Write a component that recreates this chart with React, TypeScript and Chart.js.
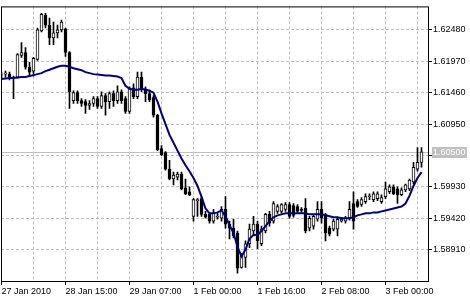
import { useEffect, useRef } from "react";
import { Chart, registerables } from "chart.js";
Chart.register(...registerables);

// H1 bars, index 0 = 27 Jan 2010 23:00
const opens = [1.61746,1.61762,1.61762,1.61714,1.61714,1.62065,1.62113,1.61874,1.61810,1.62001,
1.62464,1.62719,1.62559,1.62352,1.62432,1.62480,1.62496,1.62113,1.61332,1.61460,
1.61332,1.61316,1.61252,1.61284,1.61364,1.61236,1.61412,1.61316,1.61444,1.61332,
1.61475,1.61364,1.61157,1.61539,1.61396,1.61714,1.61523,1.61444,1.61380,1.61093,
1.60551,1.60487,1.60217,1.60057,1.60089,1.60137,1.59913,1.59850,1.59451,1.59707,
1.59739,1.59483,1.59483,1.59372,1.59436,1.59420,1.59563,1.59324,1.59260,1.59180,
1.58622,1.58782,1.59005,1.59212,1.59324,1.59005,1.59212,1.59483,1.59372,1.59531,
1.59531,1.59563,1.59643,1.59627,1.59611,1.59563,1.59579,1.59260,1.59292,1.59404,
1.59563,1.59483,1.59260,1.59244,1.59244,1.59372,1.59372,1.59420,1.59659,1.59691,
1.59643,1.59691,1.59770,1.59723,1.59739,1.59691,1.59770,1.59850,1.59930,1.59898,
1.59802,1.59882,1.59898,1.60009,1.60217,1.60328];

const highs = [1.61794,1.61810,1.61794,1.61730,1.62097,1.62273,1.62193,1.61954,1.62033,1.62511,
1.62751,1.62751,1.62671,1.62607,1.62559,1.62639,1.62511,1.62129,1.61491,1.61491,
1.61364,1.61348,1.61332,1.61396,1.61396,1.61475,1.61444,1.61475,1.61491,1.61571,
1.61507,1.61396,1.61555,1.61603,1.61794,1.61794,1.61555,1.61507,1.61412,1.61109,
1.60599,1.60503,1.60360,1.60169,1.60169,1.60169,1.60057,1.59930,1.59739,1.59739,
1.59770,1.59531,1.59499,1.59563,1.59499,1.59611,1.59770,1.59372,1.59404,1.59212,
1.58846,1.59053,1.59324,1.59451,1.59372,1.59292,1.59499,1.59531,1.59691,1.59643,
1.59659,1.59675,1.59675,1.59659,1.59643,1.59595,1.59739,1.59451,1.59483,1.59691,
1.59691,1.59499,1.59292,1.59404,1.59436,1.59436,1.59451,1.59691,1.59850,1.59723,
1.59754,1.59818,1.59818,1.59850,1.59850,1.59802,1.60009,1.59961,1.59961,1.59930,
1.59913,1.59977,1.60057,1.60328,1.60567,1.60567];

const lows = [1.61698,1.61714,1.61666,1.61364,1.61698,1.62033,1.61842,1.61730,1.61730,1.61985,
1.62448,1.62511,1.62241,1.62241,1.62352,1.62448,1.62049,1.61204,1.61284,1.61284,
1.61236,1.61125,1.61188,1.61236,1.61204,1.61204,1.61093,1.61204,1.61236,1.61284,
1.61284,1.61125,1.61125,1.61364,1.61364,1.61475,1.61316,1.61316,1.61061,1.60519,
1.60439,1.60201,1.60041,1.59961,1.60041,1.59882,1.59802,1.59786,1.59372,1.59451,
1.59451,1.59420,1.59340,1.59340,1.59404,1.59372,1.59260,1.59085,1.59101,1.58527,
1.58607,1.58622,1.58941,1.59133,1.58926,1.58973,1.59180,1.59292,1.59340,1.59499,
1.59499,1.59531,1.59420,1.59436,1.59499,1.59515,1.59180,1.59212,1.59244,1.59372,
1.59340,1.59053,1.59133,1.59212,1.59133,1.59356,1.59340,1.59388,1.59244,1.59595,
1.59611,1.59659,1.59723,1.59691,1.59707,1.59659,1.59739,1.59818,1.59802,1.59659,
1.59786,1.59850,1.59866,1.59977,1.60185,1.60248];

const closes = [1.61750,1.61778,1.61714,1.61698,1.62081,1.62113,1.61874,1.61794,1.62017,1.62480,
1.62735,1.62559,1.62352,1.62432,1.62480,1.62607,1.62113,1.61475,1.61460,1.61332,
1.61284,1.61252,1.61284,1.61364,1.61236,1.61412,1.61316,1.61444,1.61332,1.61475,
1.61332,1.61157,1.61539,1.61396,1.61714,1.61523,1.61444,1.61348,1.61093,1.60535,
1.60455,1.60217,1.60057,1.60121,1.60137,1.59898,1.59818,1.59802,1.59723,1.59723,
1.59483,1.59436,1.59372,1.59499,1.59451,1.59563,1.59324,1.59260,1.59133,1.58607,
1.58814,1.59005,1.59244,1.59324,1.59053,1.59244,1.59483,1.59340,1.59659,1.59611,
1.59643,1.59643,1.59451,1.59467,1.59531,1.59547,1.59212,1.59420,1.59451,1.59563,
1.59420,1.59180,1.59164,1.59372,1.59404,1.59404,1.59420,1.59563,1.59372,1.59611,
1.59723,1.59770,1.59786,1.59818,1.59818,1.59754,1.59898,1.59930,1.59818,1.59802,
1.59882,1.59961,1.60041,1.60248,1.60328,1.60500];

const maValues = [1.61682,1.61690,1.61698,1.61698,1.61706,1.61714,1.61714,1.61730,1.61746,1.61762,
1.61778,1.61810,1.61834,1.61858,1.61882,1.61898,1.61898,1.61882,1.61858,1.61842,
1.61826,1.61794,1.61778,1.61762,1.61754,1.61746,1.61738,1.61738,1.61730,1.61722,
1.61698,1.61571,1.61523,1.61507,1.61507,1.61523,1.61507,1.61491,1.61460,1.61316,
1.61125,1.60950,1.60774,1.60647,1.60519,1.60392,1.60280,1.60185,1.60073,1.59945,
1.59770,1.59579,1.59499,1.59499,1.59515,1.59547,1.59451,1.59308,1.59180,1.58957,
1.58798,1.58910,1.59085,1.59149,1.59149,1.59212,1.59292,1.59372,1.59436,1.59467,
1.59483,1.59499,1.59499,1.59499,1.59499,1.59499,1.59499,1.59483,1.59483,1.59483,
1.59483,1.59467,1.59451,1.59436,1.59436,1.59420,1.59420,1.59420,1.59436,1.59467,
1.59483,1.59499,1.59499,1.59515,1.59515,1.59531,1.59547,1.59563,1.59579,1.59595,
1.59611,1.59659,1.59786,1.59945,1.60073,1.60169];

const xTickBars = [0, 16, 32, 48, 64, 80, 96];
const xTickLabels = ["27 Jan 2010", "28 Jan 15:00", "29 Jan 07:00", "1 Feb 00:00", "1 Feb 16:00", "2 Feb 08:00", "3 Feb 00:00"];
const xGridStep = 8;
const yTickValues = [1.5891, 1.5942, 1.5993, 1.6044, 1.6095, 1.6146, 1.6197, 1.6248];
const yMin = 1.584;
const yMax = 1.628625;
const bidPrice = 1.605;

const FONT = { family: "'Liberation Sans', Arial, sans-serif", size: 9 };

export default function App() {
  const ref = useRef<HTMLCanvasElement>(null);
  useEffect(() => {
    document.body.style.margin = "0";
    const idx = opens.map((_, i) => i);
    const framePlugin = {
      id: "frame",
      beforeDatasetsDraw(chart: any) {
        const { ctx, chartArea, scales } = chart;
        const y = Math.round(scales.y.getPixelForValue(bidPrice)) + 0.5;
        ctx.save();
        ctx.strokeStyle = "#c0c0c0";
        ctx.lineWidth = 1;
        ctx.beginPath();
        ctx.moveTo(chartArea.left, y);
        ctx.lineTo(chartArea.right, y);
        ctx.stroke();
        ctx.restore();
      },
      afterDraw(chart: any) {
        const { ctx, chartArea, scales } = chart;
        ctx.save();
        ctx.strokeStyle = "#000000";
        ctx.lineWidth = 1;
        ctx.strokeRect(chartArea.left + 0.5, chartArea.top + 0.5, chartArea.right - chartArea.left, chartArea.bottom - chartArea.top);
        const y = Math.round(scales.y.getPixelForValue(bidPrice));
        ctx.fillStyle = "#c0c0c0";
        ctx.fillRect(chartArea.right + 4, y - 5, 35, 11);
        ctx.fillStyle = "#ffffff";
        ctx.font = `${FONT.size}px ${FONT.family}`;
        ctx.textBaseline = "middle";
        ctx.textAlign = "left";
        ctx.fillText(bidPrice.toFixed(5), chartArea.right + 5, y + 0.5);
        ctx.restore();
      },
    };
    const chart = new Chart(ref.current!, {
      type: "bar",
      data: {
        datasets: [
          {
            type: "line",
            data: idx.map((i) => ({ x: i, y: maValues[i] })),
            borderColor: "#000080",
            borderWidth: 2,
            pointRadius: 0,
            tension: 0,
            order: 0,
          } as any,
          {
            type: "bar",
            data: idx.map((i) => ({ x: i, y: [opens[i], closes[i]] })),
            backgroundColor: idx.map((i) => (closes[i] >= opens[i] ? "#ffffff" : "#000000")),
            borderColor: "#000000",
            borderWidth: 1,
            borderSkipped: false,
            barThickness: 3,
            grouped: false,
            order: 1,
          } as any,
          {
            type: "bar",
            data: idx.map((i) => ({ x: i, y: [lows[i], highs[i]] })),
            backgroundColor: "#000000",
            borderWidth: 0,
            barThickness: 1,
            grouped: false,
            order: 2,
          } as any,
        ],
      },
      options: {
        animation: false,
        responsive: true,
        maintainAspectRatio: false,
        devicePixelRatio: 1,
        layout: { padding: { left: 1, top: 1, right: 0, bottom: 0 } },
        plugins: { legend: { display: false }, tooltip: { enabled: false }, title: { display: false } },
        scales: {
          x: {
            type: "linear",
            min: -0.125,
            max: 106.625,
            offset: false,
            afterBuildTicks: (scale: any) => {
              const t = [];
              for (let v = 0; v <= 104; v += xGridStep) t.push({ value: v });
              scale.ticks = t;
            },
            afterFit: (scale: any) => {
              scale.height = 19;
            },
            grid: {
              offset: false,
              color: "#c0c0c0",
              lineWidth: 1,
              drawTicks: true,
              tickLength: 4,
              tickBorderDash: [],
              tickColor: (c: any) => (c.tick && xTickBars.includes(c.tick.value) ? "#000000" : "rgba(0,0,0,0)"),
            },
            border: { display: false, dash: [3, 2] },
            ticks: {
              autoSkip: false,
              maxRotation: 0,
              align: "start",
              padding: 1,
              color: "#000000",
              font: FONT,
              callback: (v: any) => {
                const k = xTickBars.indexOf(v);
                return k >= 0 ? xTickLabels[k] : "";
              },
            },
          } as any,
          y: {
            type: "linear",
            position: "right",
            min: yMin,
            max: yMax,
            afterBuildTicks: (scale: any) => {
              scale.ticks = yTickValues.map((v) => ({ value: v }));
            },
            afterFit: (scale: any) => {
              scale.width = 42;
            },
            grid: {
              color: "#c0c0c0",
              lineWidth: 1,
              drawTicks: true,
              tickLength: 4,
              tickBorderDash: [],
              tickColor: "#000000",
            },
            border: { display: false, dash: [3, 2] },
            ticks: {
              autoSkip: false,
              padding: 1,
              color: "#000000",
              font: FONT,
              callback: (v: any) => Number(v).toFixed(5),
            },
          } as any,
        },
      },
      plugins: [framePlugin],
    });
    return () => chart.destroy();
  }, []);
  return (
    <div style={{ position: "absolute", left: 0, top: 0, width: 470, height: 300, background: "#ffffff" }}>
      <canvas ref={ref} />
    </div>
  );
}
